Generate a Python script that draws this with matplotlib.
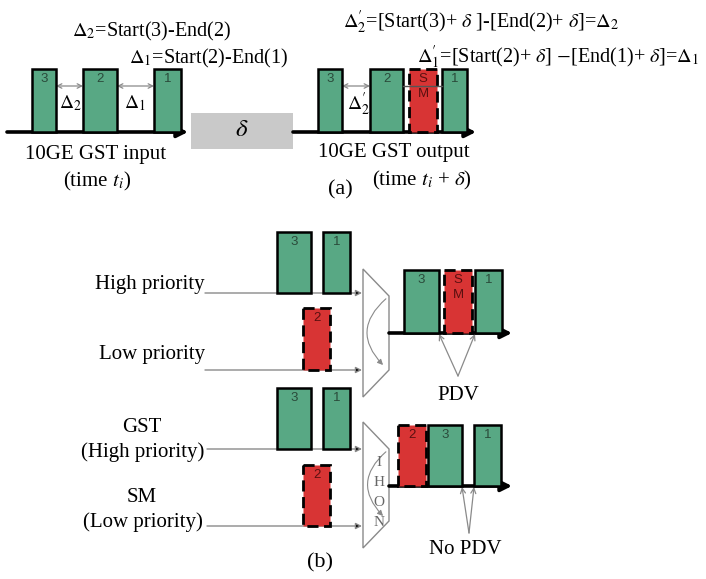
import matplotlib
matplotlib.use("Agg")
import matplotlib.pyplot as plt
from matplotlib.patches import Rectangle, Polygon, FancyArrowPatch

plt.rcParams['font.family'] = ['Liberation Serif', 'DejaVu Serif']
plt.rcParams['mathtext.fontset'] = 'stix'

# packet labels on each wire, left to right, and their kind (g = GST, s = SM)
a_in_pkts = ['3', '2', '1']
a_in_kind = ['g', 'g', 'g']
a_out_pkts = ['3', '2', 'S\nM', '1']
a_out_kind = ['g', 'g', 's', 'g']
b1_high_pkts = ['3', '1']
b1_low_pkts = ['2']
b1_out_pkts = ['3', 'S\nM', '1']
b1_out_kind = ['g', 's', 'g']
b2_high_pkts = ['3', '1']
b2_low_pkts = ['2']
b2_out_pkts = ['2', '3', '1']
b2_out_kind = ['s', 'g', 'g']

# texts
eq_d2 = r'$\Delta_2$=Start(3)-End(2)'
eq_d1 = r'$\Delta_1$=Start(2)-End(1)'
eq_d2p = r"$\Delta^{\prime}_2$=[Start(3)+ $\delta$ ]-[End(2)+ $\delta$]=$\Delta_2$"
eq_d1p = r"$\Delta^{\prime}_1$=[Start(2)+ $\delta$] $-$[End(1)+ $\delta$]=$\Delta_1$"

GREEN = '#58a884'
RED = '#d83434'
GRAY = '#8a8a8a'

fig = plt.figure(figsize=(7.06, 5.79), dpi=100)
ax = fig.add_axes([0, 0, 1, 1])
ax.set_xlim(0, 706)
ax.set_ylim(579, 0)
ax.axis('off')


def packets(labels, kinds, spans, top, bottom):
    for lab, kind, (x0, x1) in zip(labels, kinds, spans):
        if kind == 's':
            ax.add_patch(Rectangle((x0, top), x1 - x0, bottom - top, facecolor=RED,
                                   edgecolor='k', lw=2.0, ls=(0, (4, 2)), zorder=3))
            col = '#5a1010'
        else:
            ax.add_patch(Rectangle((x0, top), x1 - x0, bottom - top, facecolor=GREEN,
                                   edgecolor='k', lw=1.8, zorder=3))
            col = '#2a4a3a'
        ax.text((x0 + x1) / 2, top + 4, lab, ha='center', va='top', fontsize=9.5,
                family='Liberation Sans', color=col, zorder=4, linespacing=1.3)


def wire(x0, x1, y):
    ax.annotate('', xy=(x1, y), xytext=(x0, y),
                arrowprops=dict(arrowstyle='-|>', lw=2.6, color='k',
                                mutation_scale=16, shrinkA=0, shrinkB=0), zorder=2)


def inp(x0, x1, y):
    ax.annotate('', xy=(x1, y), xytext=(x0, y),
                arrowprops=dict(arrowstyle='-|>', lw=1.0, color=GRAY, fc='k',
                                mutation_scale=9, shrinkA=0, shrinkB=0), zorder=1)


def gap(x0, x1, y):
    ax.annotate('', xy=(x1, y), xytext=(x0, y),
                arrowprops=dict(arrowstyle='<->', lw=0.9, color=GRAY,
                                mutation_scale=8, shrinkA=0, shrinkB=0), zorder=2)


def mux(top, bot):
    ax.add_patch(Polygon([(363, top), (389, top + 27), (389, bot - 27), (363, bot)],
                         closed=True, facecolor='white', edgecolor=GRAY, lw=1.0, zorder=2))
    arr = FancyArrowPatch((388, top + 28), (385, bot - 30),
                          connectionstyle='arc3,rad=0.55', arrowstyle='-|>',
                          mutation_scale=8, lw=0.8, color=GRAY, zorder=3)
    ax.add_patch(arr)


def vee(xa, xb, yb, xv, yv):
    for xt in (xa, xb):
        ax.annotate('', xy=(xt, yb), xytext=(xv, yv),
                    arrowprops=dict(arrowstyle='->', lw=0.9, color=GRAY,
                                    mutation_scale=9, shrinkA=0, shrinkB=0), zorder=2)


# ---------------- panel (a) ----------------
wire(7, 188, 132)
packets(a_in_pkts, a_in_kind, [(32, 56), (83, 117), (154, 181)], 69, 132)
gap(56, 83, 86)
gap(117, 154, 86)
ax.text(70, 103, r'$\Delta_2$', ha='center', va='center', fontsize=14)
ax.text(135, 103, r'$\Delta_1$', ha='center', va='center', fontsize=14)

ax.add_patch(Rectangle((191, 113), 102, 36, facecolor='#c9c9c9', edgecolor='none', zorder=1))
ax.text(242, 130, r'$\delta$', ha='center', va='center', fontsize=18)

wire(293, 476, 132)
gap(342, 370, 86)
ax.plot([403, 442], [86, 86], color='#555555', lw=1.0, zorder=4)
packets(a_out_pkts, a_out_kind, [(318, 342), (370, 403), (409, 437), (442, 467)], 69, 132)
ax.text(358, 104, r"$\Delta^{\prime}_2$", ha='center', va='center', fontsize=14)

ax.text(72, 31, eq_d2, ha='left', va='center', fontsize=14.5)
ax.text(129, 58, eq_d1, ha='left', va='center', fontsize=14.5)
ax.text(343, 22, eq_d2p, ha='left', va='center', fontsize=14.5)
ax.text(417, 57, eq_d1p, ha='left', va='center', fontsize=14.5)

ax.text(96, 154, '10GE GST input', ha='center', va='center', fontsize=15)
ax.text(97, 181, r'(time $t_i$)', ha='center', va='center', fontsize=15)
ax.text(394, 153, '10GE GST output', ha='center', va='center', fontsize=15)
ax.text(422, 180, r'(time $t_i$ + $\delta$)', ha='center', va='center', fontsize=15)
ax.text(340, 190, '(a)', ha='center', va='center', fontsize=16)

# ---------------- panel (b), top: strict priority ----------------
inp(205, 362, 293)
inp(205, 362, 370)
packets(b1_high_pkts, ['g', 'g'], [(277, 311), (323, 350)], 232, 293)
packets(b1_low_pkts, ['s'], [(303, 330)], 308, 370)
ax.text(205, 285, 'High priority', ha='right', va='center', fontsize=15)
ax.text(205, 355, 'Low priority', ha='right', va='center', fontsize=15)
mux(269, 397)
wire(389, 512, 333)
packets(b1_out_pkts, b1_out_kind, [(404, 439), (444, 472), (475, 502)], 270, 333)
vee(439, 475, 334, 458, 376)
ax.text(458, 396, 'PDV', ha='center', va='center', fontsize=15)

# ---------------- panel (b), bottom: IHON ----------------
inp(207, 362, 449)
inp(207, 362, 526)
packets(b2_high_pkts, ['g', 'g'], [(277, 311), (323, 350)], 388, 449)
packets(b2_low_pkts, ['s'], [(303, 330)], 465, 526)
ax.text(142, 427, 'GST', ha='center', va='center', fontsize=15)
ax.text(143, 452, '(High priority)', ha='center', va='center', fontsize=15)
ax.text(142, 498, 'SM', ha='center', va='center', fontsize=15)
ax.text(143, 522, '(Low priority)', ha='center', va='center', fontsize=15)
mux(422, 548)
for ch, yy in zip('IHON', [462, 483, 503, 522]):
    ax.text(379, yy, ch, ha='center', va='center', fontsize=11, color='#666666', zorder=4)
wire(389, 512, 486)
packets(b2_out_pkts, b2_out_kind, [(398, 426), (428, 462), (474, 501)], 425, 486)
vee(462, 474, 487, 469, 533)
ax.text(465, 550, 'No PDV', ha='center', va='center', fontsize=15)
ax.text(320, 563, '(b)', ha='center', va='center', fontsize=16)

fig.savefig('out.png', dpi=100)
